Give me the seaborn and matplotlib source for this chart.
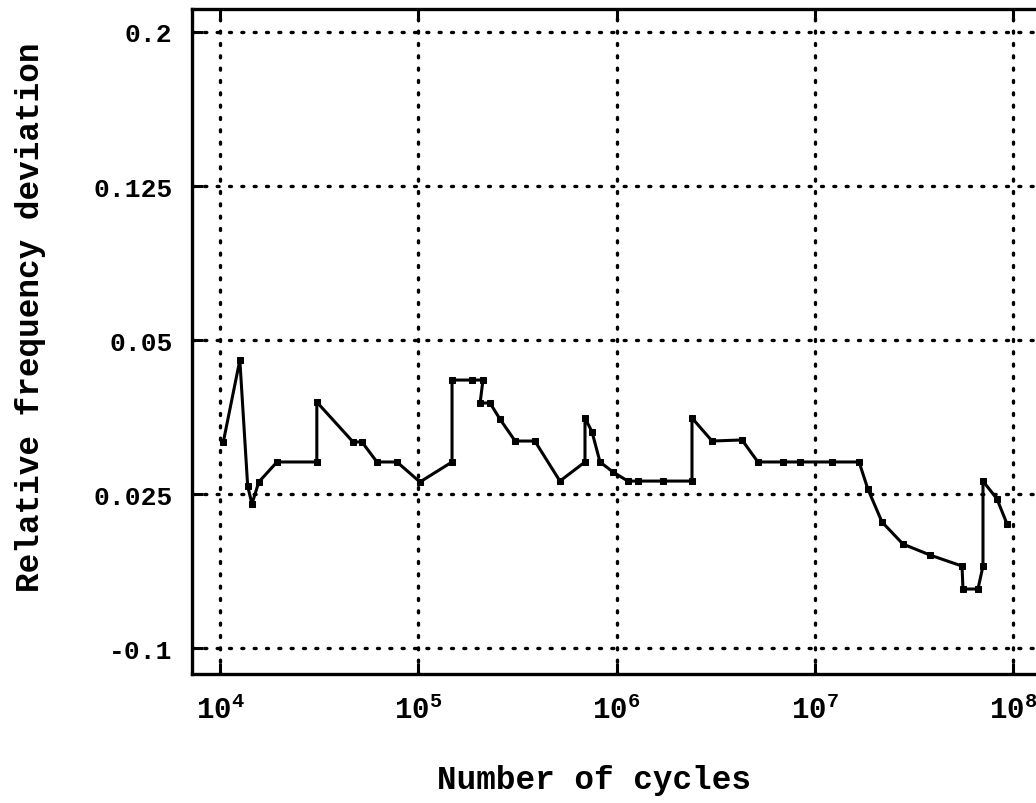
import numpy as np
import pandas as pd
import matplotlib
matplotlib.use("Agg")
import matplotlib.pyplot as plt
from matplotlib.ticker import FixedLocator, FixedFormatter, NullLocator
import seaborn as sns

# ---- data ----
cycles = [1.04e4, 1.26e4, 1.38e4, 1.45e4, 1.57e4, 1.94e4, 3.08e4, 3.08e4,
          4.69e4, 5.2e4, 6.19e4, 7.81e4, 1.02e5, 1.48e5, 1.48e5, 1.87e5,
          2.12e5, 2.05e5, 2.30e5, 2.58e5, 3.08e5, 3.87e5, 5.18e5, 6.93e5,
          6.93e5, 7.52e5, 8.25e5, 9.59e5, 1.14e6, 1.28e6, 1.71e6, 2.40e6,
          2.40e6, 3.03e6, 4.29e6, 5.16e6, 6.90e6, 8.41e6, 1.22e7, 1.67e7,
          1.85e7, 2.18e7, 2.78e7, 3.80e7, 5.52e7, 5.58e7, 6.64e7, 7.04e7,
          7.04e7, 8.28e7, 9.31e7]
# position on the (evenly spaced, category-like) deviation axis: 0 -> -0.1 ... 4 -> 0.2
deviation_pos = [1.338, 1.870, 1.052, 0.935, 1.078, 1.208, 1.208, 1.597,
                 1.338, 1.338, 1.208, 1.208, 1.078, 1.208, 1.740, 1.740,
                 1.740, 1.591, 1.591, 1.487, 1.344, 1.344, 1.084, 1.208,
                 1.494, 1.403, 1.208, 1.143, 1.084, 1.084, 1.084, 1.084,
                 1.494, 1.344, 1.351, 1.208, 1.208, 1.208, 1.208, 1.208,
                 1.032, 0.818, 0.675, 0.604, 0.532, 0.383, 0.383, 0.532,
                 1.084, 0.968, 0.805]
y_tick_labels = ["-0.1", "0.025", "0.05", "0.125", "0.2"]
x_tick_values = [1e4, 1e5, 1e6, 1e7, 1e8]
x_tick_labels = [r"$\mathbf{10^{4}}$", r"$\mathbf{10^{5}}$",
                 r"$\mathbf{10^{6}}$", r"$\mathbf{10^{7}}$",
                 r"$\mathbf{10^{8}}$"]

df = pd.DataFrame({"cycles": cycles, "pos": deviation_pos})

sns.set_theme(style="ticks")
mono = ["Liberation Mono", "DejaVu Sans Mono"]
plt.rcParams["font.family"] = mono
plt.rcParams["mathtext.fontset"] = "custom"
plt.rcParams["mathtext.rm"] = "Liberation Mono"
plt.rcParams["mathtext.it"] = "Liberation Mono"
plt.rcParams["mathtext.bf"] = "Liberation Mono:bold"

fig = plt.figure(figsize=(10.36, 8.04), dpi=100)
ax = fig.add_axes([0.1853, 0.1604, 0.831, 0.8271])

sns.lineplot(data=df, x="cycles", y="pos", sort=False, estimator=None,
             color="black", linewidth=2.2, marker="s", markersize=5,
             markeredgecolor="black", markerfacecolor="black", ax=ax)

ax.set_xscale("log")
ax.set_xlim(10 ** 3.859, 10 ** 8.2)
ax.set_ylim(-0.169, 4.149)

ax.xaxis.set_major_locator(FixedLocator(x_tick_values))
ax.xaxis.set_major_formatter(FixedFormatter(x_tick_labels))
ax.xaxis.set_minor_locator(NullLocator())
ax.yaxis.set_major_locator(FixedLocator(list(range(len(y_tick_labels)))))
ax.yaxis.set_major_formatter(FixedFormatter(y_tick_labels))

ax.grid(True, which="major", color="black", linestyle=(0, (0.6, 3.1)),
        linewidth=2.4, dash_capstyle="round")
ax.set_axisbelow(True)

for side in ["left", "bottom", "top", "right"]:
    ax.spines[side].set_linewidth(2.4)
    ax.spines[side].set_color("black")

ax.tick_params(axis="both", direction="in", length=8, width=2.2,
               colors="black", top=True, right=False)
ax.tick_params(axis="y", pad=14, labelsize=19)
ax.tick_params(axis="x", pad=15, labelsize=21)
for lab in ax.get_yticklabels():
    lab.set_fontweight("bold")

ax.set_xlabel("Number of cycles", fontsize=23.5, fontweight="bold", color="black")
ax.set_ylabel("Relative frequency deviation", fontsize=23.5, fontweight="bold",
              color="black")
ax.xaxis.set_label_coords(0.467, -0.135)
ax.yaxis.set_label_coords(-0.170, 0.538)

fig.savefig("out.png", dpi=100, facecolor="white")
